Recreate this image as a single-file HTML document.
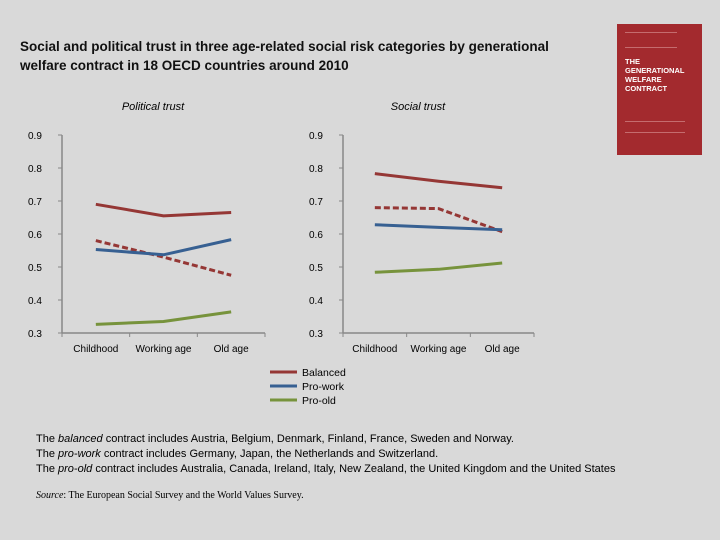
<!DOCTYPE html>
<html><head><meta charset="utf-8"><style>
body{margin:0;width:720px;height:540px;background:#d9d9d9;font-family:"Liberation Sans",sans-serif;overflow:hidden;position:relative}
.t{position:absolute;color:#000}
</style></head><body>
<div class="t" style="left:20px;top:37px;font-size:13.5px;line-height:19px;font-weight:bold;color:#111;white-space:nowrap">Social and political trust in three age-related social risk categories by generational<br>welfare contract in 18 OECD countries around 2010</div>
<div style="position:absolute;left:617px;top:24px;width:85px;height:131px;background:#a32a2e;color:#fff;font-size:7px;line-height:8px">
<div style="position:absolute;left:8px;top:8px;width:52px;height:14px;border-top:1px solid #d99;border-bottom:1px solid #d99;opacity:.6"></div>
<div style="position:absolute;left:8px;top:33px;font-weight:bold;font-size:7.5px;line-height:9px">THE<br>GENERATIONAL<br>WELFARE<br>CONTRACT</div>
<div style="position:absolute;left:8px;top:97px;width:60px;height:10px;border-top:1px solid #d99;border-bottom:1px solid #d99;opacity:.6"></div></div>
<svg id="c" width="720" height="540" style="position:absolute;left:0;top:0"></svg>
<div class="t" style="left:36px;top:433px;font-size:11px">The <i>balanced</i> contract includes Austria, Belgium, Denmark, Finland, France, Sweden and Norway.</div>
<div class="t" style="left:36px;top:448px;font-size:11px">The <i>pro-work</i> contract includes Germany, Japan, the Netherlands and Switzerland.</div>
<div class="t" style="left:36px;top:463px;font-size:11px">The <i>pro-old</i> contract includes Australia, Canada, Ireland, Italy, New Zealand, the United Kingdom and the United States</div>
<div class="t" style="left:36px;top:490px;font-size:10px;font-family:'Liberation Serif',serif"><i>Source</i>: The European Social Survey and the World Values Survey.</div>
<script>
const categories=["Childhood","Working age","Old age"];
const yTicks=[0.3,0.4,0.5,0.6,0.7,0.8,0.9];
const polBalanced=[0.69,0.655,0.665];
const polBalancedDash=[0.58,0.53,0.475];
const polProWork=[0.553,0.537,0.583];
const polProOld=[0.326,0.335,0.364];
const socBalanced=[0.783,0.76,0.74];
const socBalancedDash=[0.68,0.677,0.607];
const socProWork=[0.628,0.62,0.613];
const socProOld=[0.484,0.493,0.512];
const NS="http://www.w3.org/2000/svg",svg=document.getElementById('c');
function mk(t,a,p){const e=document.createElementNS(NS,t);for(const k in a)e.setAttribute(k,a[k]);(p||svg).appendChild(e);return e;}
const y=v=>333-(v-0.3)/0.6*198;
function panel(x0,x1,title,tx,series,name){
  const g=mk('g',{});
  
  
  const step=(x1-x0)/3,x=i=>x0+step*(i+0.5);
  const tt=mk('text',{x:tx,y:110,'font-size':11,'font-style':'italic','text-anchor':'middle'},g);tt.textContent=title;
  
  mk('line',{x1:x0,y1:y(0.9),x2:x0,y2:333,stroke:'#888','stroke-width':1.5},g);
  mk('line',{x1:x0,y1:333,x2:x1,y2:333,stroke:'#888','stroke-width':1.5},g);
  yTicks.forEach(v=>{mk('line',{x1:x0-4,y1:y(v),x2:x0,y2:y(v),stroke:'#888'},g);
    const t=mk('text',{x:x0-34,y:y(v)+4,'font-size':10},g);t.textContent=v.toFixed(1);
    });
  for(let i=0;i<=3;i++)mk('line',{x1:x0+step*i,y1:333,x2:x0+step*i,y2:337,stroke:'#888'},g);
  categories.forEach((c,i)=>{const t=mk('text',{x:x(i),y:352,'font-size':10,'text-anchor':'middle'},g);t.textContent=c;
    });
  series.forEach(s=>{const l=mk('polyline',{points:s.d.map((v,i)=>x(i)+','+y(v)).join(' '),fill:'none',stroke:s.c,'stroke-width':3,'stroke-dasharray':s.dash||'none'},g);
    
    });
}
panel(62,265,'Political trust',153,[{d:polBalanced,c:'#953735',n:'political-balanced-line'},{d:polBalancedDash,c:'#953735',dash:'6 3',n:'political-balanced-dashed-line'},{d:polProWork,c:'#376092',n:'political-pro-work-line'},{d:polProOld,c:'#77933c',n:'political-pro-old-line'}],'political-trust-chart');
panel(343,534,'Social trust',418,[{d:socBalanced,c:'#953735',n:'social-balanced-line'},{d:socBalancedDash,c:'#953735',dash:'6 3',n:'social-balanced-dashed-line'},{d:socProWork,c:'#376092',n:'social-pro-work-line'},{d:socProOld,c:'#77933c',n:'social-pro-old-line'}],'social-trust-chart');
const legend=[["Balanced","#953735"],["Pro-work","#376092"],["Pro-old","#77933c"]];
legend.forEach((l,i)=>{const g=mk('g',{});
  
  
  mk('line',{x1:270,y1:372+i*14,x2:297,y2:372+i*14,stroke:l[1],'stroke-width':3},g);
  const t=mk('text',{x:302,y:376+i*14,'font-size':10.5},g);t.textContent=l[0];});
</script>
</body></html>
